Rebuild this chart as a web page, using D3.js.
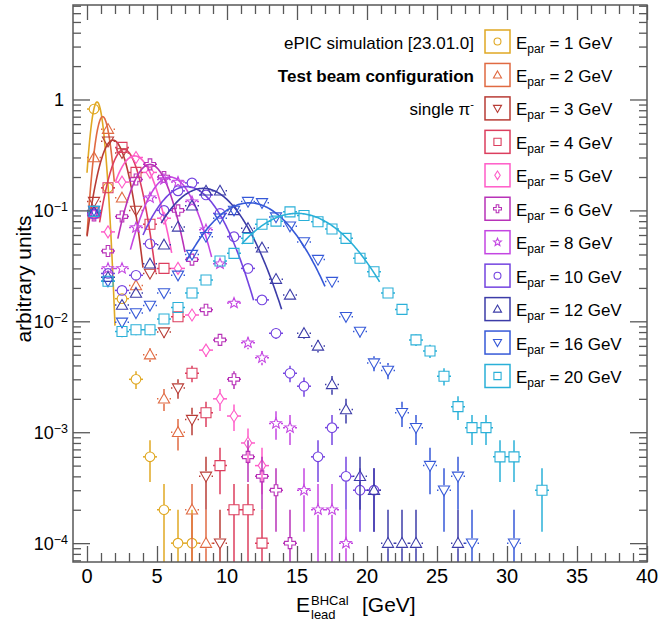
<!doctype html>
<html lang="en">
<head>
<meta charset="utf-8">
<script src="https://cdnjs.cloudflare.com/ajax/libs/d3/7.8.5/d3.min.js"></script>
<style>
  body { margin: 0; padding: 0; background: #fff; }
  #canvas { display: block; font-family: 'Liberation Sans', Arial, Helvetica, sans-serif; }
</style>
</head>
<body>
<svg id="canvas" width="660" height="621"></svg>
<script>
// particle energies, one histogram each (1 GeV bins, first bin centred on 0.5 GeV)
var energies = [1, 2, 3, 4, 5, 6, 8, 10, 12, 16, 20];
var colors = ['#E0A823', '#E06A42', '#B83C36', '#DC3E5E', '#FF5CC8', '#B832B8',
              '#C446E2', '#7444E0', '#3C3CA8', '#3659D8', '#2AB0D8'];
var markers = ['circle', 'triUp', 'triDown', 'square', 'diamond', 'cross',
               'star', 'circle', 'triUp', 'triDown', 'square'];

// normalised yields per bin (null = empty bin)
var e1 = [0.82, 0.16, 0.016, 0.003, 0.0006, 0.0002, 0.0001, 0.0001];
var e2 = [0.30, 0.54, 0.13, 0.021, 0.005, 0.002, 0.001, 0.0002, 0.0001];
var e3 = [0.12, 0.42, 0.33, 0.10, 0.027, 0.008, 0.0025, 0.0013, 0.0004, 0.0001];
var e4 = [0.095, 0.16, 0.37, 0.22, 0.075, 0.030, 0.011, 0.0034, 0.0015, 0.0005,
          0.0002, 0.0002, 0.0001];
var e5 = [0.092, 0.064, 0.18, 0.30, 0.22, 0.085, 0.030, 0.0114, 0.0055, 0.002,
          0.0014, 0.0008, 0.0005];
var e6 = [0.09, 0.043, 0.088, 0.19, 0.26, 0.20, 0.10, 0.036, 0.0127, 0.0068,
          0.003, 0.0006, 0.0004, 0.0003, 0.0001];
var e8 = [0.094, 0.030, 0.030, 0.07, 0.13, 0.19, 0.18, 0.12, 0.067, 0.033,
          0.0146, 0.0064, 0.0047, 0.0012, 0.0011, 0.0003, 0.0002, 0.0002, 0.0001];
var e10 = [0.093, 0.027, 0.019, 0.026, 0.05, 0.10, 0.15, 0.177, 0.138, 0.094,
           0.058, 0.030, 0.0156, 0.0078, 0.0034, 0.0026, 0.0006, 0.0011, 0.0004,
           0.0003, 0.0003];
var e12 = [0.097, 0.025, 0.014, 0.018, 0.033, 0.049, 0.071, 0.11, 0.15, 0.15,
           0.10, 0.069, 0.046, 0.024, 0.0173, 0.0078, 0.006, 0.0027, 0.0016, 0.0004,
           0.0003, 0.0001, 0.0001, 0.0001, null, null, 0.0001];
var e16 = [0.10, 0.023, 0.0098, 0.0119, 0.0139, 0.018, 0.026, 0.040, 0.058, 0.085,
           0.10, 0.12, 0.117, 0.087, 0.072, 0.052, 0.036, 0.0228, 0.011, 0.0081,
           0.0042, 0.0036, 0.0015, 0.0011, 0.0005, 0.0003, 0.0004, 0.0001, null, null,
           0.0001];
var e20 = [0.098, 0.023, 0.0081, 0.0084, 0.0084, 0.0105, 0.0133, 0.018, 0.0236, 0.035,
           0.041, 0.056, 0.075, 0.080, 0.097, 0.090, 0.079, 0.068, 0.056, 0.037,
           0.028, 0.018, 0.0128, 0.0068, 0.0054, 0.0032, 0.0017, 0.0011, 0.0011, 0.0006,
           0.0006, null, 0.0003];
var series = [e1, e2, e3, e4, e5, e6, e8, e10, e12, e16, e20];

// gaussian fit results: mean, sigma, amplitude, fit range
var fitMean  = [0.72, 1.12, 1.86, 2.64, 3.4, 4.5, 5.93, 7.12, 8.3, 11.6, 15.0];
var fitSigma = [0.42, 0.505, 0.93, 1.0, 1.32, 1.31, 1.63, 2.2, 2.5, 2.9, 3.5];
var fitAmp   = [0.95, 0.70, 0.43, 0.355, 0.31, 0.26, 0.20, 0.164, 0.158, 0.117, 0.094];
var fitLo    = [0, 0, 0, 0.9, 2.05, 2.2, 3.1, 4.0, 5.3, 7.1, 11.05];
var fitHi    = [2.0, 1.95, 4.0, 4.9, 6.05, 7.0, 8.9, 11.9, 13.9, 17.0, 20.9];

var nEvents = 10000;
var xTicks = [0, 5, 10, 15, 20, 25, 30, 35, 40];
var yTicks = [1e-4, 1e-3, 1e-2, 1e-1, 1];
var yTickExp = ['4', '3', '2', '1', null];
var infoLines = ['ePIC simulation [23.01.0]', 'Test beam configuration', 'single \u03c0'];

var fLeft = 73, fRight = 647, fTop = 5, fBottom = 562;
var axisColor = '#585858';
var ymin = 6.76e-5, ymax = 7.11;

var svg = d3.select('#canvas');
var x = d3.scaleLinear().domain([-1, 40]).range([fLeft, fRight]);
var y = d3.scaleLog().domain([ymin, ymax]).range([fBottom, fTop]);

svg.append('clipPath').attr('id', 'clip').append('rect')
  .attr('x', fLeft).attr('y', fTop).attr('width', fRight - fLeft).attr('height', fBottom - fTop);

function shape(type, s) {
  var p;
  if (type === 'circle') {
    var r = 4.8 * s;
    return 'M' + (-r) + ',0A' + r + ',' + r + ' 0 1,0 ' + r + ',0A' + r + ',' + r + ' 0 1,0 ' + (-r) + ',0Z';
  }
  if (type === 'square') p = [[-5, -5], [5, -5], [5, 5], [-5, 5]];
  if (type === 'triUp') p = [[0, -5.6], [5.6, 4.2], [-5.6, 4.2]];
  if (type === 'triDown') p = [[0, 5.6], [5.6, -4.2], [-5.6, -4.2]];
  if (type === 'diamond') p = [[0, -6], [3.8, 0], [0, 6], [-3.8, 0]];
  if (type === 'cross') {
    var a = 1.8, b = 5.5;
    p = [[-a, -b], [a, -b], [a, -a], [b, -a], [b, a], [a, a], [a, b], [-a, b],
         [-a, a], [-b, a], [-b, -a], [-a, -a]];
  }
  if (type === 'star') {
    p = d3.range(10).map(function(k) {
      var rr = k % 2 ? 2.4 : 5.6, ang = -Math.PI / 2 + k * Math.PI / 5;
      return [rr * Math.cos(ang), rr * Math.sin(ang)];
    });
  }
  return 'M' + p.map(function(q) { return (q[0] * s).toFixed(2) + ',' + (q[1] * s).toFixed(2); }).join('L') + 'Z';
}

var gaps = {circle: [4.8, 4.8], square: [5, 5], triUp: [5.6, 5], triDown: [5.6, 5],
            diamond: [3.8, 6], cross: [5.5, 5.5], star: [5, 5]};

var plot = svg.append('g').attr('clip-path', 'url(#clip)');

series.forEach(function(vals, k) {
  var g = plot.append('g');
  var c = colors[k], gap = gaps[markers[k]];
  var pts = vals.map(function(v, i) { return {x: i + 0.5, v: v}; })
    .filter(function(d) { return d.v != null; });

  var segs = [];
  pts.forEach(function(d) {
    var cx = x(d.x), cy = y(d.v), err = Math.sqrt(d.v / nEvents);
    var yt = y(d.v + err);
    var yb = d.v - err > ymin ? y(d.v - err) : fBottom + 2;
    segs.push([x(d.x - 0.5), cy, cx - gap[0], cy]);
    segs.push([cx + gap[0], cy, x(d.x + 0.5), cy]);
    if (yt < cy - gap[1]) segs.push([cx, yt, cx, cy - gap[1]]);
    if (yb > cy + gap[1]) segs.push([cx, cy + gap[1], cx, yb]);
  });

  g.selectAll('line').data(segs).enter().append('line')
    .attr('x1', function(s) { return s[0]; })
    .attr('y1', function(s) { return s[1]; })
    .attr('x2', function(s) { return s[2]; })
    .attr('y2', function(s) { return s[3]; })
    .attr('stroke', c)
    .attr('stroke-width', 1.5);

  g.selectAll('path.mk').data(pts).enter().append('path')
    .attr('class', 'mk')
    .attr('d', shape(markers[k], 1))
    .attr('transform', function(d) { return 'translate(' + x(d.x) + ',' + y(d.v) + ')'; })
    .attr('fill', 'none')
    .attr('stroke', c)
    .attr('stroke-width', 1.1);

  var xs = d3.range(121).map(function(i) { return fitLo[k] + (fitHi[k] - fitLo[k]) * i / 120; });
  var line = d3.line()
    .x(function(t) { return x(t); })
    .y(function(t) {
      var z = (t - fitMean[k]) / fitSigma[k];
      return y(fitAmp[k] * Math.exp(-0.5 * z * z));
    });
  g.append('path')
    .attr('d', line(xs))
    .attr('fill', 'none')
    .attr('stroke', c)
    .attr('stroke-width', 1.6);
});

// ticks on all four sides, pointing inwards
function tickSet(axisFn, scale, vals, size, tx, ty) {
  svg.append('g').attr('transform', 'translate(' + tx + ',' + ty + ')')
    .call(axisFn(scale).tickValues(vals).tickSize(size).tickFormat(''))
    .call(function(g) { g.select('.domain').remove(); })
    .selectAll('line').attr('stroke', axisColor).attr('stroke-width', 1.3);
}
var xMinor = d3.range(0, 41).filter(function(v) { return v % 5 !== 0; });
var yMinor = [];
[1e-5, 1e-4, 1e-3, 1e-2, 1e-1, 1].forEach(function(d) {
  for (var m = 2; m <= 9; m++) {
    var v = m * d;
    if (v > ymin && v < ymax) yMinor.push(v);
  }
});
tickSet(d3.axisBottom, x, xTicks, -16, 0, fBottom);
tickSet(d3.axisBottom, x, xMinor, -9, 0, fBottom);
tickSet(d3.axisTop, x, xTicks, -15, 0, fTop);
tickSet(d3.axisTop, x, xMinor, -9, 0, fTop);
tickSet(d3.axisLeft, y, yTicks, -17, fLeft, 0);
tickSet(d3.axisLeft, y, yMinor, -8, fLeft, 0);
tickSet(d3.axisRight, y, yTicks, -17, fRight, 0);
tickSet(d3.axisRight, y, yMinor, -8, fRight, 0);

svg.append('rect')
  .attr('x', fLeft).attr('y', fTop)
  .attr('width', fRight - fLeft).attr('height', fBottom - fTop)
  .attr('fill', 'none')
  .attr('stroke', axisColor)
  .attr('stroke-width', 1.5);

// tick labels
svg.selectAll('.xlab').data(xTicks).enter().append('text')
  .attr('class', 'xlab')
  .attr('x', function(d) { return x(d); })
  .attr('y', 583)
  .attr('text-anchor', 'middle')
  .attr('font-size', 20)
  .text(function(d) { return d; });

yTicks.forEach(function(v, i) {
  var t = svg.append('text')
    .attr('x', yTickExp[i] ? 68 : 64)
    .attr('y', y(v) + 7)
    .attr('text-anchor', 'end')
    .attr('font-size', 18);
  if (yTickExp[i]) {
    t.append('tspan').text('10');
    t.append('tspan').attr('font-size', 12.5).attr('dy', -6).text('\u2212' + yTickExp[i]);
  } else {
    t.text('1');
  }
});

// axis titles
svg.append('text')
  .attr('transform', 'translate(31,279) rotate(-90)')
  .attr('text-anchor', 'middle')
  .attr('font-size', 21)
  .text('arbitrary units');

svg.append('text').attr('x', 296).attr('y', 612).attr('font-size', 21).text('E');
svg.append('text').attr('x', 311).attr('y', 605).attr('font-size', 13).text('BHCal');
svg.append('text').attr('x', 311).attr('y', 619).attr('font-size', 13).text('lead');
svg.append('text').attr('x', 362).attr('y', 612).attr('font-size', 21).text('[GeV]');

// legend
var rowH = 33.45, boxX = 485, boxY = 30, boxW = 25, boxH = 23;
energies.forEach(function(e, i) {
  var y0 = boxY + rowH * i, yc = y0 + boxH / 2;
  svg.append('rect')
    .attr('x', boxX).attr('y', y0).attr('width', boxW).attr('height', boxH)
    .attr('fill', 'none').attr('stroke', colors[i]).attr('stroke-width', 1.5);
  svg.append('path')
    .attr('d', shape(markers[i], 0.72))
    .attr('transform', 'translate(' + (boxX + boxW / 2) + ',' + yc + ')')
    .attr('fill', 'none').attr('stroke', colors[i]).attr('stroke-width', 1.1);
  var t = svg.append('text').attr('x', 516).attr('y', yc + 7).attr('font-size', 17);
  t.append('tspan').text('E');
  t.append('tspan').attr('font-size', 12).attr('dy', 4).text('par');
  t.append('tspan').attr('dy', -4).text(' = ' + e + ' GeV');
});

// info text
infoLines.forEach(function(s, i) {
  var t = svg.append('text')
    .attr('x', 474)
    .attr('y', boxY + boxH / 2 + rowH * i + 7)
    .attr('text-anchor', 'end')
    .attr('font-size', 17)
    .attr('font-weight', i === 1 ? 'bold' : 'normal');
  t.append('tspan').text(s);
  if (i === 2) t.append('tspan').attr('font-size', 11).attr('dy', -7).text('-');
});
</script>
</body>
</html>
